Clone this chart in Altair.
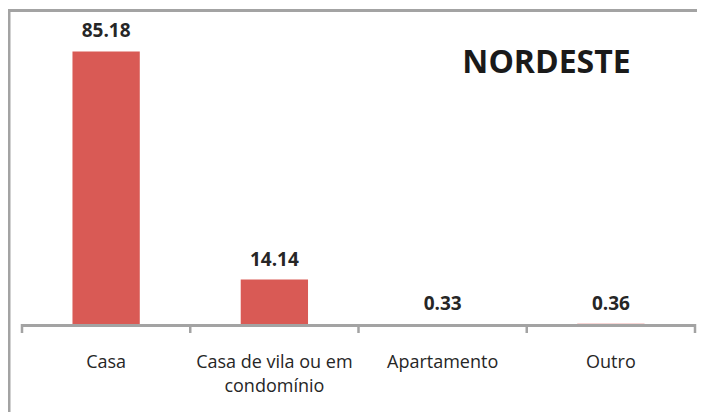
import altair as alt
import pandas as pd

categories = ["Casa", "Casa de vila ou em condomínio", "Apartamento", "Outro"]
label_lines = ["Casa", "Casa de vila ou em\ncondomínio", "Apartamento", "Outro"]
values = [85.18, 14.14, 0.33, 0.36]
title_text = "NORDESTE"

df = pd.DataFrame({"cat": categories, "label": label_lines, "value": values})
bounds_df = pd.DataFrame({"b": list(range(len(categories) + 1))})

W, H = 673, 289
FONT = "Open Sans"
TXT = "#262626"
GRAY = "#A3A3A3"

x = alt.X(
    "cat:N",
    sort=categories,
    scale=alt.Scale(paddingInner=0.6, paddingOuter=0.3),
    axis=alt.Axis(
        title=None, labels=False, ticks=False, domainColor=GRAY, domainWidth=3, zindex=1,
    ),
)
x_plain = alt.X("cat:N", sort=categories)
y = alt.Y("value:Q", scale=alt.Scale(domain=[0, 90], nice=False, zero=True), axis=None)

base = alt.Chart(df)
bars = base.mark_bar(color="#D95A55").encode(x=x, y=y)
vals = base.mark_text(
    font=FONT, fontWeight="bold", fontSize=19, color=TXT, baseline="alphabetic", dy=-14
).encode(x=x_plain, y=y, text=alt.Text("value:Q", format=".2f"))
cats = base.mark_text(
    font=FONT, fontSize=18, color=TXT, baseline="alphabetic", lineBreak="\n", lineHeight=24
).encode(x=x_plain, y=alt.value(332), text="label:N")

title = alt.Chart(pd.DataFrame({"t": [title_text]})).mark_text(
    font=FONT, fontWeight="bold", fontSize=32, color="#1a1a1a", baseline="alphabetic", align="center"
).encode(x=alt.value(524.5), y=alt.value(37), text="t:N")

frame_df = pd.DataFrame({"a": [0]})
left_line = alt.Chart(frame_df).mark_rule(color=GRAY, strokeWidth=2.5).encode(
    x=alt.value(-12.75), y=alt.value(-27), y2=alt.value(H + 87)
)
top_line = alt.Chart(frame_df).mark_rule(color=GRAY, strokeWidth=3).encode(
    x=alt.value(-14), x2=alt.value(W + 2), y=alt.value(-25.5)
)

main = alt.layer(bars, vals, cats, title, left_line, top_line)

ticks = alt.Chart(bounds_df).mark_rule(color=GRAY, strokeWidth=2.5).encode(
    x=alt.X("b:Q", scale=alt.Scale(domain=[0, len(categories)], nice=False, zero=False), axis=None),
    y=alt.value(H - 1),
    y2=alt.value(H + 8),
)

chart = alt.layer(main, ticks).resolve_scale(x="independent").properties(
    width=W, height=H,
    padding={"left": 14, "top": 28, "right": 2, "bottom": 87},
    autosize=alt.AutoSizeParams(type="none"),
    background="white",
).configure_view(stroke=None)

chart.save("out.html", embed_options={"renderer": "svg", "actions": False})
